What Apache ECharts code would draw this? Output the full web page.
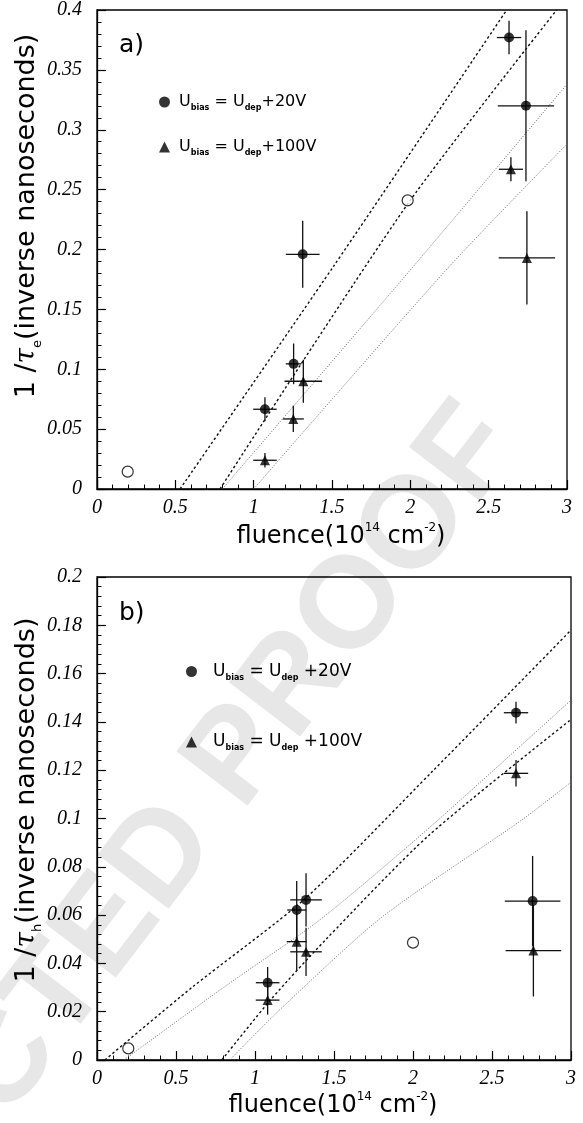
<!DOCTYPE html>
<html>
<head>
<meta charset="utf-8">
<title>Trapping rates versus fluence</title>
<script src="https://cdn.jsdelivr.net/npm/echarts/dist/echarts.min.js"></script>
<style>
html, body { margin: 0; padding: 0; background: #fff; }
#chart { width: 583px; height: 1123px; }
</style>
</head>
<body>
<div id="chart"></div>
<script>
// ---- a) electrons: 1/tau_e versus fluence ----
const fluenceA20  = [1.072, 1.255, 1.313, 2.630, 2.738];
const rateA20     = [0.0666, 0.1045, 0.196, 0.377, 0.320];
const fluErrA20   = [0.075, 0.050, 0.108, 0.078, 0.180];
const rateErrA20  = [0.010, 0.017, 0.028, 0.014, 0.063];

const fluenceA100 = [1.072, 1.253, 1.317, 2.642, 2.744];
const rateA100    = [0.0240, 0.0585, 0.0900, 0.267, 0.193];
const fluErrA100  = [0.075, 0.067, 0.120, 0.077, 0.180];
const rateErrA100 = [0.006, 0.011, 0.018, 0.010, 0.039];

const openFluenceA = [0.196, 1.983];
const openRateA    = [0.0145, 0.241];

// fitted lines, read as (fluence, rate) points
const fitA1 = [[0.53, 0], [1.51, 0.186], [2.615, 0.4]];
const fitA2 = [[0.785, 0], [1.983, 0.238], [2.934, 0.4]];
const fitA3 = [[0.80, 0], [2.02, 0.186], [3.0, 0.338]];
const fitA4 = [[1.00, 0], [2.25, 0.186], [3.0, 0.288]];

// ---- b) holes: 1/tau_h versus fluence ----
const fluenceB20  = [1.080, 1.264, 1.323, 2.652, 2.757];
const rateB20     = [0.0320, 0.0621, 0.0663, 0.1438, 0.0658];
const fluErrB20   = [0.075, 0.060, 0.100, 0.077, 0.176];
const rateErrB20  = [0.0065, 0.012, 0.011, 0.0045, 0.0187];

const fluenceB100 = [1.080, 1.264, 1.323, 2.652, 2.762];
const rateB100    = [0.0248, 0.0490, 0.0448, 0.1187, 0.0453];
const fluErrB100  = [0.075, 0.063, 0.100, 0.077, 0.176];
const rateErrB100 = [0.006, 0.012, 0.010, 0.0055, 0.019];

const openFluenceB = [0.198, 2.000];
const openRateB    = [0.0048, 0.0486];

const fitB1 = [[0.05, 0], [0.60, 0.030], [1.32, 0.067], [2.13, 0.120], [3.0, 0.178]];
const fitB2 = [[0.17, 0], [0.80, 0.030], [1.41, 0.058], [2.10, 0.096], [3.0, 0.149]];
const fitB3 = [[0.79, 0], [1.10, 0.025], [1.45, 0.050], [2.10, 0.093], [3.0, 0.141]];
const fitB4 = [[0.84, 0], [1.16, 0.021], [1.80, 0.059], [2.68, 0.099], [3.0, 0.115]];

// axis ranges and tick steps
const xTicks = {min: 0, max: 3, step: 0.5};
const yTicksA = {min: 0, max: 0.4, step: 0.05};
const yTicksB = {min: 0, max: 0.2, step: 0.02};

const zip2 = (xs, ys) => xs.map((x, i) => [x, ys[i]]);
const zip4 = (xs, ys, ex, ey) => xs.map((x, i) => [x, ys[i], ex[i], ey[i]]);

const tickFont = {fontFamily: 'Liberation Serif', fontStyle: 'italic', fontSize: 20, color: '#000'};

function xAxisFor(gi) {
  return {
    type: 'value', gridIndex: gi, min: xTicks.min, max: xTicks.max, interval: xTicks.step,
    axisLine: {show: true, onZero: false, lineStyle: {color: '#000', width: 1.3}},
    axisTick: {show: true, inside: true, length: 9, lineStyle: {color: '#000', width: 1.2}},
    minorTick: {show: true, splitNumber: 5, length: 4.5, lineStyle: {color: '#000', width: 1}},
    splitLine: {show: false},
    axisLabel: Object.assign({margin: 9}, tickFont)
  };
}
function yAxisFor(gi, t) {
  return {
    type: 'value', gridIndex: gi, min: t.min, max: t.max, interval: t.step,
    axisLine: {show: true, onZero: false, lineStyle: {color: '#000', width: 1.3}},
    axisTick: {show: true, inside: true, length: 9, lineStyle: {color: '#000', width: 1.2}},
    minorTick: {show: true, splitNumber: 5, length: 4.5, lineStyle: {color: '#000', width: 1}},
    splitLine: {show: false},
    axisLabel: Object.assign({margin: 15}, tickFont)
  };
}

// cross-shaped error bars: [x, y, xerr, yerr]
function crossBars(params, api) {
  const x = api.value(0), y = api.value(1), ex = api.value(2), ey = api.value(3);
  const a = api.coord([x - ex, y]), b = api.coord([x + ex, y]);
  const c = api.coord([x, y - ey]), d = api.coord([x, y + ey]);
  const st = {stroke: '#111', lineWidth: 1.3};
  return {
    type: 'group',
    children: [
      {type: 'line', shape: {x1: a[0], y1: a[1], x2: b[0], y2: b[1]}, style: st},
      {type: 'line', shape: {x1: c[0], y1: c[1], x2: d[0], y2: d[1]}, style: st}
    ]
  };
}

const dashed = {color: '#111', width: 1.4, type: [2.5, 2.5]};
const dotted = {color: '#6a6a6a', width: 1.0, type: [1, 1.6]};

function fitLine(gi, pts, style) {
  return {
    type: 'line', xAxisIndex: gi, yAxisIndex: gi, data: pts, showSymbol: false,
    smooth: 0.25, lineStyle: style, silent: true, z: 1
  };
}
function bars(gi, data) {
  return {type: 'custom', xAxisIndex: gi, yAxisIndex: gi, renderItem: crossBars,
          data: data, encode: {x: 0, y: 1}, z: 2, silent: true};
}
function markers(gi, name, symbol, size, data) {
  return {type: 'scatter', name: name, xAxisIndex: gi, yAxisIndex: gi, symbol: symbol,
          symbolSize: size, data: data, itemStyle: {color: '#000'}, z: 3};
}
function openMarkers(gi, data) {
  return {type: 'scatter', xAxisIndex: gi, yAxisIndex: gi, symbol: 'circle', symbolSize: 11,
          data: data, itemStyle: {color: '#fff', borderColor: '#000', borderWidth: 1.2}, z: 3};
}

function legendRich(size) {
  return {
    u: {fontFamily: 'DejaVu Sans', fontSize: size, color: '#000', lineHeight: 20},
    s: {fontFamily: 'DejaVu Sans', fontSize: 8, fontWeight: 'bold', color: '#000',
        verticalAlign: 'bottom', lineHeight: 12},
    g: {width: 4}, w: {width: 11}
  };
}
const legendText = {
  a20:  '{g|}{u|U}{s|bias}{u| = U}{s|dep}{u|+20V}',
  a100: '{g|}{u|U}{s|bias}{u| = U}{s|dep}{u|+100V}',
  b20:  '{w|}{u|U}{s|bias}{u| = U}{s|dep}{u| +20V}',
  b100: '{w|}{u|U}{s|bias}{u| = U}{s|dep}{u| +100V}'
};
function legendFor(left, top, gap, names, size) {
  return {
    orient: 'vertical', left: left, top: top, itemGap: gap, itemWidth: 11, itemHeight: 11,
    selectedMode: false, data: [{name: names[0], icon: 'circle'}, {name: names[1], icon: 'triangle'}],
    formatter: n => legendText[n], textStyle: {rich: legendRich(size)}
  };
}

const titleRich = {
  n: {fontFamily: 'DejaVu Sans', fontSize: 27, color: '#000', lineHeight: 34},
  t: {fontFamily: 'DejaVu Serif', fontStyle: 'italic', fontSize: 28, color: '#000', lineHeight: 34},
  s: {fontFamily: 'DejaVu Sans', fontSize: 13, color: '#000', verticalAlign: 'bottom', lineHeight: 16}
};
const xTitleRich = {
  n: {fontFamily: 'DejaVu Sans', fontSize: 24, color: '#000', lineHeight: 30},
  p: {fontFamily: 'DejaVu Sans', fontSize: 12, color: '#000', verticalAlign: 'top', lineHeight: 14}
};

const option = {
  animation: false,
  backgroundColor: '#fff',
  grid: [
    {left: 97, top: 10, width: 470, height: 479, show: true, borderColor: '#000', borderWidth: 1.3},
    {left: 97, top: 577, width: 474, height: 483, show: true, borderColor: '#000', borderWidth: 1.3}
  ],
  xAxis: [xAxisFor(0), xAxisFor(1)],
  yAxis: [yAxisFor(0, yTicksA), yAxisFor(1, yTicksB)],
  legend: [
    legendFor(154, 89, 27, ['a20', 'a100'], 16),
    legendFor(181, 658, 52, ['b20', 'b100'], 17)
  ],
  graphic: [
    {type: 'text', x: 36, y: 1023, rotation: 0.918, z: -10, silent: true,
     style: {text: 'UNCORRECTED PROOF', fontFamily: 'Liberation Sans', fontWeight: 'bold',
             fontSize: 130, fill: '#e7e7e7', align: 'center', verticalAlign: 'middle'}},
    {type: 'text', x: 119, y: 45, style: {text: 'a)', fontFamily: 'DejaVu Sans', fontSize: 25,
     fill: '#000', align: 'left', verticalAlign: 'middle'}},
    {type: 'text', x: 119, y: 613, style: {text: 'b)', fontFamily: 'DejaVu Sans', fontSize: 25,
     fill: '#000', align: 'left', verticalAlign: 'middle'}},
    {type: 'text', x: 341, y: 537, style: {text: '{n|fluence(10}{p|14}{n| cm}{p|-2}{n|)}',
     rich: xTitleRich, align: 'center', verticalAlign: 'middle'}},
    {type: 'text', x: 333, y: 1106, style: {text: '{n|fluence(10}{p|14}{n| cm}{p|-2}{n|)}',
     rich: xTitleRich, align: 'center', verticalAlign: 'middle'}},
    {type: 'text', x: 27, y: 216, rotation: Math.PI / 2,
     style: {text: '{n|1 /}{t|τ}{s|e}{n|(inverse nanoseconds)}', rich: titleRich,
             align: 'center', verticalAlign: 'middle'}},
    {type: 'text', x: 27, y: 800, rotation: Math.PI / 2,
     style: {text: '{n|1 /}{t|τ}{s|h}{n|(inverse nanoseconds)}', rich: titleRich,
             align: 'center', verticalAlign: 'middle'}}
  ],
  series: [
    fitLine(0, fitA1, dashed), fitLine(0, fitA2, dashed),
    fitLine(0, fitA3, dotted), fitLine(0, fitA4, dotted),
    bars(0, zip4(fluenceA20, rateA20, fluErrA20, rateErrA20)),
    bars(0, zip4(fluenceA100, rateA100, fluErrA100, rateErrA100)),
    markers(0, 'a20', 'circle', 10, zip2(fluenceA20, rateA20)),
    markers(0, 'a100', 'triangle', 10, zip2(fluenceA100, rateA100)),
    openMarkers(0, zip2(openFluenceA, openRateA)),

    fitLine(1, fitB1, dashed), fitLine(1, fitB2, dotted),
    fitLine(1, fitB3, dashed), fitLine(1, fitB4, dotted),
    bars(1, zip4(fluenceB20, rateB20, fluErrB20, rateErrB20)),
    bars(1, zip4(fluenceB100, rateB100, fluErrB100, rateErrB100)),
    markers(1, 'b20', 'circle', 10, zip2(fluenceB20, rateB20)),
    markers(1, 'b100', 'triangle', 10, zip2(fluenceB100, rateB100)),
    openMarkers(1, zip2(openFluenceB, openRateB))
  ]
};

const chart = echarts.init(document.getElementById('chart'));
chart.setOption(option);
</script>
</body>
</html>
